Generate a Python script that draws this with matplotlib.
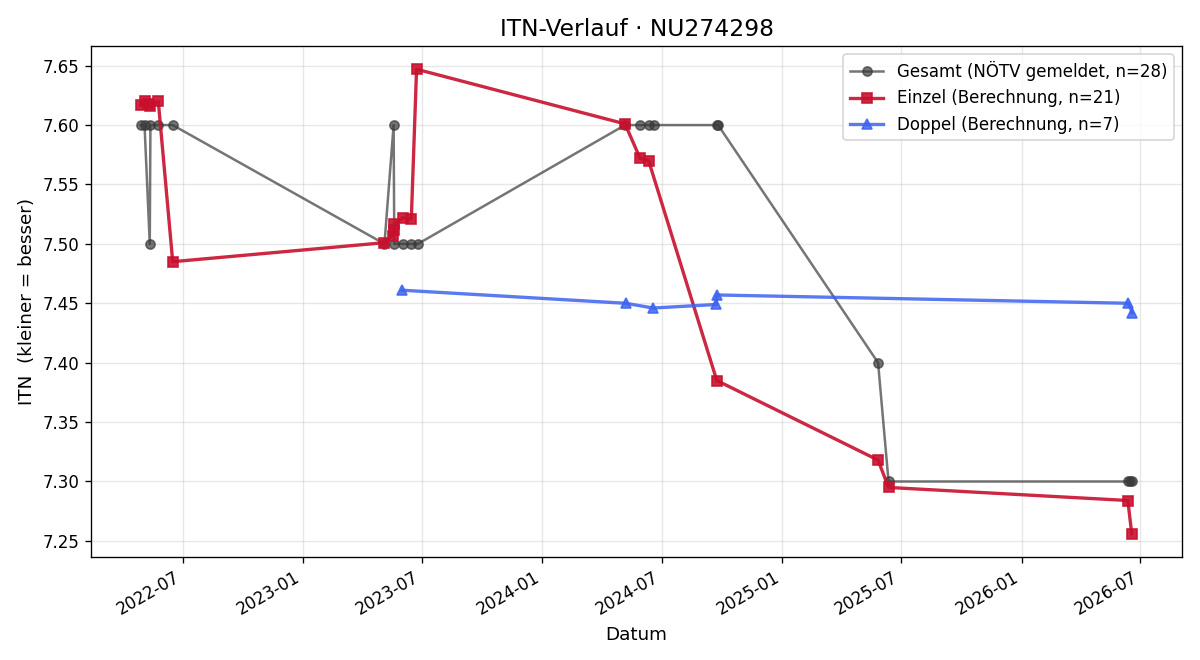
import matplotlib
matplotlib.use("Agg")
import matplotlib.pyplot as plt
import matplotlib.dates as mdates
import pandas as pd

gesamt_dates = ["2022-04-28", "2022-05-04", "2022-05-12", "2022-05-13", "2022-05-25", "2022-06-16",
                "2023-05-05", "2023-05-19", "2023-05-20", "2023-06-02", "2023-06-15", "2023-06-25",
                "2024-05-06", "2024-05-29", "2024-06-12", "2024-06-19", "2024-09-23", "2024-09-25",
                "2025-05-27", "2025-06-12",
                "2026-06-12", "2026-06-15", "2026-06-18"]
gesamt_vals = [7.60, 7.60, 7.50, 7.60, 7.60, 7.60,
               7.50, 7.60, 7.50, 7.50, 7.50, 7.50,
               7.60, 7.60, 7.60, 7.60, 7.60, 7.60,
               7.40, 7.30,
               7.30, 7.30, 7.30]

einzel_dates = ["2022-04-28", "2022-05-04", "2022-05-09", "2022-05-13", "2022-05-25", "2022-06-16",
                "2023-05-05", "2023-05-18", "2023-05-19", "2023-05-20", "2023-06-02", "2023-06-15", "2023-06-23",
                "2024-05-06", "2024-05-29", "2024-06-11", "2024-09-23",
                "2025-05-27", "2025-06-12",
                "2026-06-12", "2026-06-18"]
einzel_vals = [7.617, 7.620, 7.618, 7.616, 7.620, 7.485,
               7.501, 7.507, 7.512, 7.517, 7.522, 7.521, 7.647,
               7.601, 7.572, 7.570, 7.385,
               7.318, 7.295,
               7.284, 7.256]

doppel_dates = ["2023-06-01", "2024-05-07", "2024-06-18", "2024-09-22", "2024-09-23", "2026-06-13", "2026-06-19"]
doppel_vals = [7.461, 7.450, 7.446, 7.449, 7.457, 7.450, 7.442]

labels = ["Gesamt (NÖTV gemeldet, n=28)", "Einzel (Berechnung, n=21)", "Doppel (Berechnung, n=7)"]

fig, ax = plt.subplots(figsize=(10, 5.5), dpi=120)
ax.plot(pd.to_datetime(gesamt_dates), gesamt_vals, marker="o", color="#3a3a3a", alpha=0.7,
        lw=1.5, ms=5.5, label=labels[0])
ax.plot(pd.to_datetime(einzel_dates), einzel_vals, marker="s", color="#C8102E", alpha=0.9,
        lw=2, ms=6, label=labels[1])
ax.plot(pd.to_datetime(doppel_dates), doppel_vals, marker="^", color="#3D63F0", alpha=0.85,
        lw=2, ms=6, label=labels[2])

ax.set_title("ITN-Verlauf · NU274298", fontsize=14)
ax.set_xlabel("Datum", fontsize=11)
ax.set_ylabel("ITN  (kleiner = besser)", fontsize=11)
ax.grid(True, alpha=0.3)
ax.xaxis.set_major_locator(mdates.MonthLocator(bymonth=[1, 7]))
ax.xaxis.set_major_formatter(mdates.DateFormatter("%Y-%m"))
ax.legend(loc="upper right")
fig.autofmt_xdate()
fig.subplots_adjust(left=91/1200, right=1182/1200, top=1-46/660, bottom=1-557/660)
fig.savefig("out.png")
